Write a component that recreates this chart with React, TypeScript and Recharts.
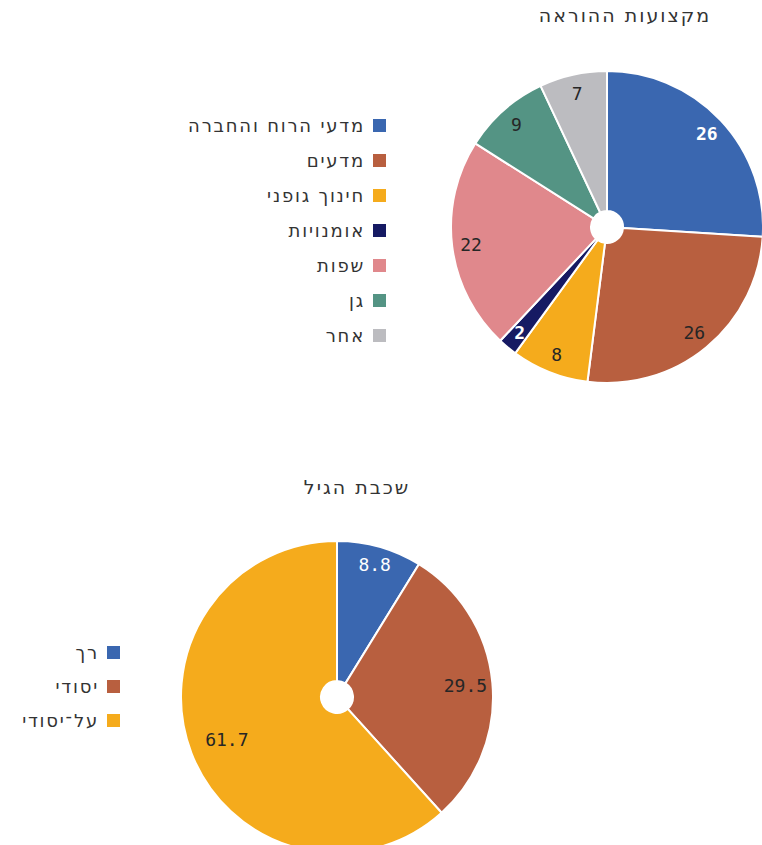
import { PieChart, Pie, Cell } from "recharts";

const subjectNames = ["מדעי הרוח והחברה", "מדעים", "חינוך גופני", "אומנויות", "שפות", "גן", "אחר"];
const subjectValues = [26, 26, 8, 2, 22, 9, 7];
const subjectColors = ["#3a67b0", "#b85f3f", "#f5ab1c", "#161a63", "#e0888c", "#549484", "#bcbcc0"];
const subjectLabelColors = ["#ffffff", "#262626", "#262626", "#ffffff", "#262626", "#262626", "#262626"];
const subjectLabelBold = [true, false, false, true, false, false, false];

const gradeNames = ["רך", "יסודי", "על־יסודי"];
const gradeValues = [8.8, 29.5, 61.7];
const gradeColors = ["#3a67b0", "#b85f3f", "#f5ab1c"];
const gradeLabelColors = ["#ffffff", "#262626", "#262626"];
const gradeLabelRadius = [138, 129, 118];

const NUM_FONT = "'DejaVu Sans Mono', monospace";
const HEB_FONT = "'DejaVu Sans', sans-serif";
const RAD = Math.PI / 180;
const NO_MARGIN = { top: 0, right: 0, bottom: 0, left: 0 };

const subjectData = subjectNames.map((name, i) => ({ name, value: subjectValues[i] }));
const gradeData = gradeNames.map((name, i) => ({ name, value: gradeValues[i] }));

function makeLabel(radii: number[], colors: string[], bold: boolean[]) {
  return (props: any) => {
    const { cx, cy, midAngle, index, value } = props;
    const r = radii[index];
    const x = cx + r * Math.cos(-midAngle * RAD);
    const y = cy + r * Math.sin(-midAngle * RAD);
    return (
      <text
        x={x}
        y={y}
        fill={colors[index]}
        fontSize={18}
        fontFamily={NUM_FONT}
        fontWeight={bold[index] ? "bold" : "normal"}
        textAnchor="middle"
        dominantBaseline="central"
      >
        {value}
      </text>
    );
  };
}

function LegendBox({ names, colors, top, right, gap }: { names: string[]; colors: string[]; top: number; right: number; gap: number }) {
  return (
    <div style={{ position: "absolute", top, right, fontFamily: HEB_FONT, fontSize: 18, letterSpacing: 1.8, color: "#333" }}>
      {names.map((n, i) => (
        <div key={n} style={{ display: "flex", justifyContent: "flex-end", alignItems: "center", height: gap }}>
          <span style={{ direction: "rtl", marginRight: 8 }}>{n}</span>
          <span style={{ width: 13, height: 13, background: colors[i], display: "inline-block" }} />
        </div>
      ))}
    </div>
  );
}

const titleStyle = {
  position: "absolute" as const,
  width: 240,
  textAlign: "center" as const,
  fontFamily: HEB_FONT,
  fontSize: 19,
  letterSpacing: 2,
  color: "#333",
  direction: "rtl" as const,
};

export default function App() {
  return (
    <div style={{ position: "absolute", left: 0, top: 0, width: 762, height: 845, overflow: "hidden", background: "#fff" }}>
      <div style={{ ...titleStyle, top: 4, left: 505 }}>מקצועות ההוראה</div>
      <div style={{ position: "absolute", top: 0, left: 0 }}>
        <PieChart width={762} height={420} margin={NO_MARGIN}>
          <Pie
            data={subjectData}
            dataKey="value"
            cx={607}
            cy={227}
            innerRadius={16}
            outerRadius={156}
            startAngle={90}
            endAngle={-270}
            stroke="#fff"
            strokeWidth={2}
            labelLine={false}
            label={makeLabel(subjectValues.map(() => 137), subjectLabelColors, subjectLabelBold)}
            isAnimationActive={false}
          >
            {subjectData.map((d, i) => (
              <Cell key={d.name} fill={subjectColors[i]} />
            ))}
          </Pie>
        </PieChart>
      </div>
      <LegendBox names={subjectNames} colors={subjectColors} top={108} right={762 - 386} gap={35} />

      <div style={{ ...titleStyle, top: 476, left: 237 }}>שכבת הגיל</div>
      <div style={{ position: "absolute", top: 420, left: 0 }}>
        <PieChart width={762} height={425} margin={NO_MARGIN}>
          <Pie
            data={gradeData}
            dataKey="value"
            cx={337}
            cy={277}
            innerRadius={16}
            outerRadius={156}
            startAngle={90}
            endAngle={-270}
            stroke="#fff"
            strokeWidth={2}
            labelLine={false}
            label={makeLabel(gradeLabelRadius, gradeLabelColors, [false, false, false])}
            isAnimationActive={false}
          >
            {gradeData.map((d, i) => (
              <Cell key={d.name} fill={gradeColors[i]} />
            ))}
          </Pie>
        </PieChart>
      </div>
      <LegendBox names={gradeNames} colors={gradeColors} top={635} right={762 - 120} gap={34} />
    </div>
  );
}
